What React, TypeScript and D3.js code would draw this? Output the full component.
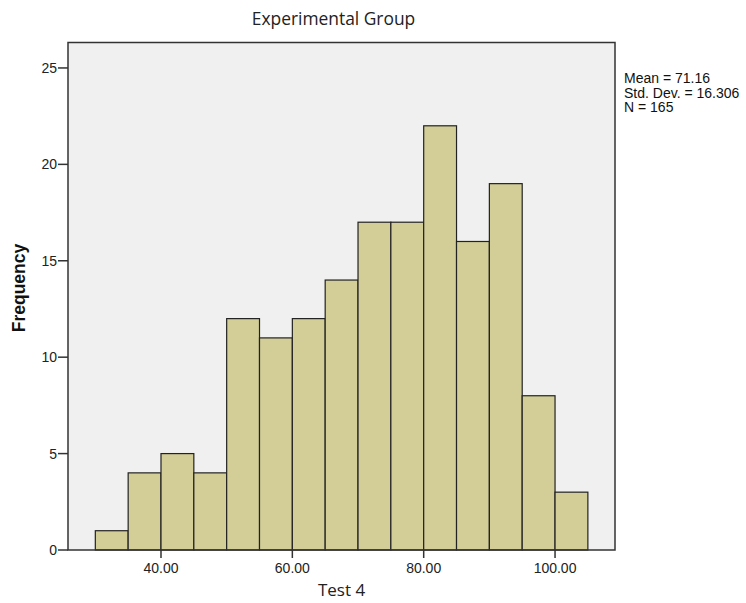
import React from "react";
import * as d3 from "d3";

const binStarts = [30, 35, 40, 45, 50, 55, 60, 65, 70, 75, 80, 85, 90, 95, 100];
const frequencies = [1, 4, 5, 4, 12, 11, 12, 14, 17, 17, 22, 16, 19, 8, 3];
const binWidth = 5;
const xTicks = [40, 60, 80, 100];
const yTicks = [0, 5, 10, 15, 20, 25];
const statsLines = ["Mean = 71.16", "Std. Dev. = 16.306", "N = 165"];

const W = 746;
const H = 603;
const left = 68;
const right = 615;
const top = 42.5;
const bottom = 550;

export default function App() {
  const x = d3.scaleLinear().domain([25.84, 109.13]).range([left, right]);
  const y = d3.scaleLinear().domain([0, 26.32]).range([bottom, top]);
  const font = "'Liberation Sans', Arial, sans-serif";
  const titleFont = "'Open Sans', 'Noto Sans', sans-serif";
  return (
    <svg width={W} height={H} style={{ position: "absolute", left: 0, top: 0, background: "#fff" }}>
      <rect x={left} y={top} width={right - left} height={bottom - top} fill="#F0F0F0" />
      {frequencies.map((f, i) => (
        <rect
          key={i}
          x={x(binStarts[i])}
          y={y(f)}
          width={x(binStarts[i] + binWidth) - x(binStarts[i])}
          height={y(0) - y(f)}
          fill="#D3CE98"
          stroke="#222"
          strokeWidth={1.2}
        />
      ))}
      <rect x={left} y={top} width={right - left} height={bottom - top} fill="none" stroke="#333" strokeWidth={1.5} />
      {yTicks.map((t) => (
        <g key={t}>
          <line x1={left - 10} x2={left} y1={y(t)} y2={y(t)} stroke="#333" strokeWidth={1.5} />
          <text x={left - 11} y={y(t) + 5} textAnchor="end" fontFamily={font} fontSize={14} fill="#222">
            {t}
          </text>
        </g>
      ))}
      {xTicks.map((t) => (
        <g key={t}>
          <line x1={x(t)} x2={x(t)} y1={bottom} y2={bottom + 8} stroke="#333" strokeWidth={1.5} />
          <text x={x(t)} y={bottom + 23} textAnchor="middle" fontFamily={font} fontSize={14} fill="#222">
            {t.toFixed(2)}
          </text>
        </g>
      ))}
      <text x={333.5} y={25} textAnchor="middle" fontFamily={titleFont} fontSize={17.4} fill="#222">
        Experimental Group
      </text>
      <text x={341.5} y={596} textAnchor="middle" fontFamily={titleFont} fontSize={17} fill="#222">
        Test 4
      </text>
      <text
        transform={`translate(24.5, 288) rotate(-90)`}
        textAnchor="middle"
        fontFamily={font}
        fontSize={17.5}
        fontWeight="bold"
        fill="#111"
      >
        Frequency
      </text>
      {statsLines.map((s, i) => (
        <text key={i} x={624} y={83 + i * 14.5} fontFamily={font} fontSize={14} fill="#111">
          {s}
        </text>
      ))}
    </svg>
  );
}
